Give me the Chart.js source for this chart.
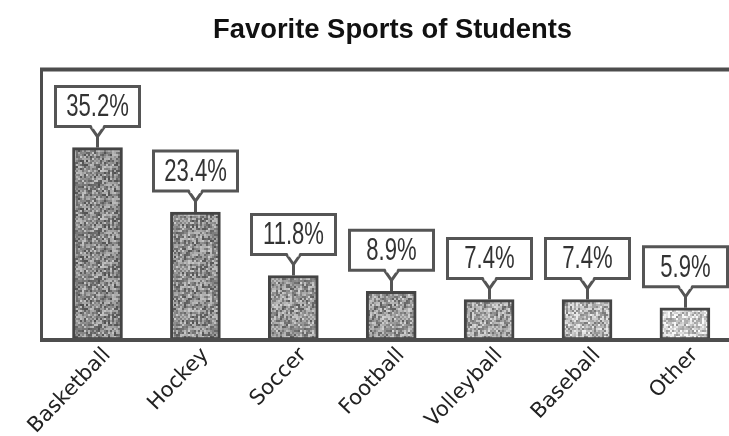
<!DOCTYPE html>
<html>
<head>
<meta charset="utf-8">
<script src="https://cdn.jsdelivr.net/npm/chart.js@4.4.1/dist/chart.umd.min.js"></script>
<style>
  body { margin: 0; background: #fff; }
  #wrap { width: 729px; height: 436px; position: relative; }
</style>
</head>
<body>
<div id="wrap"><canvas id="chart"></canvas></div>
<script>
const chart_title = "Favorite Sports of Students";
const sports = ["Basketball", "Hockey", "Soccer", "Football", "Volleyball", "Baseball", "Other"];
const shares = [35.2, 23.4, 11.8, 8.9, 7.4, 7.4, 5.9];
const share_labels = ["35.2%", "23.4%", "11.8%", "8.9%", "7.4%", "7.4%", "5.9%"];

// grey level of each bar's stipple (darker for the bigger ones)
const bar_greys = [138, 142, 150, 152, 160, 180, 205];

// small deterministic hash for the stipple texture
function hash(i, j) {
  var s = Math.sin(i * 12.9898 + j * 78.233) * 43758.5453;
  return s - Math.floor(s);
}

function makeStipple(grey) {
  var c = document.createElement("canvas");
  c.width = 48; c.height = 48;
  var g = c.getContext("2d");
  for (var i = 0; i < 24; i++) {
    for (var j = 0; j < 24; j++) {
      var v = Math.round(grey + (hash(i + grey, j) - 0.5) * 120);
      v = Math.max(40, Math.min(250, v));
      g.fillStyle = "rgb(" + v + "," + v + "," + v + ")";
      g.fillRect(i * 2, j * 2, 2, 2);
    }
  }
  return g.createPattern(c, "repeat");
}

const frame_plugin = {
  id: "frame",
  beforeDatasetsDraw(chart) {
    const ctx = chart.ctx, a = chart.chartArea;
    ctx.save();
    ctx.strokeStyle = "#4d4d4d";
    ctx.lineWidth = 4;
    ctx.beginPath();
    ctx.moveTo(40, a.top - 0.5);
    ctx.lineTo(729, a.top - 0.5);
    ctx.stroke();
    ctx.lineWidth = 3;
    ctx.beginPath();
    ctx.moveTo(41.5, a.top - 2);
    ctx.lineTo(41.5, a.bottom + 1);
    ctx.stroke();
    ctx.restore();
  },
  afterDatasetsDraw(chart) {
    const ctx = chart.ctx, a = chart.chartArea;
    ctx.save();
    ctx.strokeStyle = "#4d4d4d";
    ctx.lineWidth = 4;
    ctx.beginPath();
    ctx.moveTo(40, a.bottom);
    ctx.lineTo(729, a.bottom);
    ctx.stroke();

    // callout boxes
    const meta = chart.getDatasetMeta(0);
    meta.data.forEach((bar, i) => {
      const x = Math.round(bar.x) + 0.5;
      const top = bar.y;
      const w = 84, h = 40;
      const bottom = top - 21;
      const left = x - w / 2, boxTop = bottom - h;
      ctx.fillStyle = "#fff";
      ctx.fillRect(left, boxTop, w, h);
      ctx.strokeStyle = "#555";
      ctx.lineWidth = 3;
      ctx.beginPath();
      ctx.moveTo(x - 7, bottom);
      ctx.lineTo(left, bottom);
      ctx.lineTo(left, boxTop);
      ctx.lineTo(left + w, boxTop);
      ctx.lineTo(left + w, bottom);
      ctx.lineTo(x + 7, bottom);
      ctx.lineTo(x, bottom + 10);
      ctx.closePath();
      ctx.stroke();
      ctx.fillRect(x - 5, bottom - 2, 10, 4);
      ctx.beginPath();
      ctx.moveTo(x, bottom + 9);
      ctx.lineTo(x, top);
      ctx.stroke();

      ctx.save();
      ctx.translate(x, boxTop + h / 2 + 1);
      ctx.scale(0.69, 1);
      ctx.fillStyle = "#333";
      ctx.font = "32px 'Liberation Sans', Arial, sans-serif";
      ctx.textAlign = "center";
      ctx.textBaseline = "middle";
      ctx.fillText(share_labels[i], 0, 0);
      ctx.restore();
    });

    ctx.restore();
  },
  afterDraw(chart) {
    const ctx = chart.ctx;
    ctx.save();
    ctx.font = "bold 28px 'Liberation Sans', Arial, sans-serif";
    const tw = ctx.measureText(chart_title).width;
    ctx.translate(392.5, 38);
    ctx.scale(359 / tw, 1);
    ctx.fillStyle = "#111";
    ctx.textAlign = "center";
    ctx.textBaseline = "alphabetic";
    ctx.fillText(chart_title, 0, 0);
    ctx.restore();
  }
};

const points = sports.map((s, i) => ({ x: i, y: shares[i] }));

new Chart(document.getElementById("chart"), {
  type: "bar",
  data: {
    datasets: [{
      label: "Share of students",
      data: points,
      backgroundColor: bar_greys.map(makeStipple),
      borderColor: "#444",
      borderWidth: 3,
      borderSkipped: false,
      barThickness: 50
    }]
  },
  options: {
    responsive: true,
    maintainAspectRatio: false,
    animation: false,
    layout: { padding: { top: 70, left: 41, right: 0, bottom: 0 } },
    plugins: {
      legend: { display: false },
      title: { display: false },
      tooltip: { enabled: false }
    },
    scales: {
      x: {
        type: "linear",
        min: -0.577,
        max: 6.45,
        offset: false,
        grid: { display: false, drawTicks: false },
        border: { display: false },
        afterBuildTicks(scale) {
          scale.ticks = sports.map((s, i) => ({ value: i }));
        },
        afterFit(scale) {
          scale.height = 96;
          scale.paddingLeft = 0;
          scale.paddingRight = 0;
        },
        ticks: {
          autoSkip: false,
          minRotation: 46,
          maxRotation: 46,
          padding: 3,
          labelOffset: 10,
          color: "#222",
          font: { family: "'DejaVu Sans', sans-serif", size: 21 },
          callback: (v) => sports[v]
        }
      },
      y: {
        display: false,
        min: 0,
        max: 49.4
      }
    }
  },
  plugins: [frame_plugin]
});
</script>
</body>
</html>
